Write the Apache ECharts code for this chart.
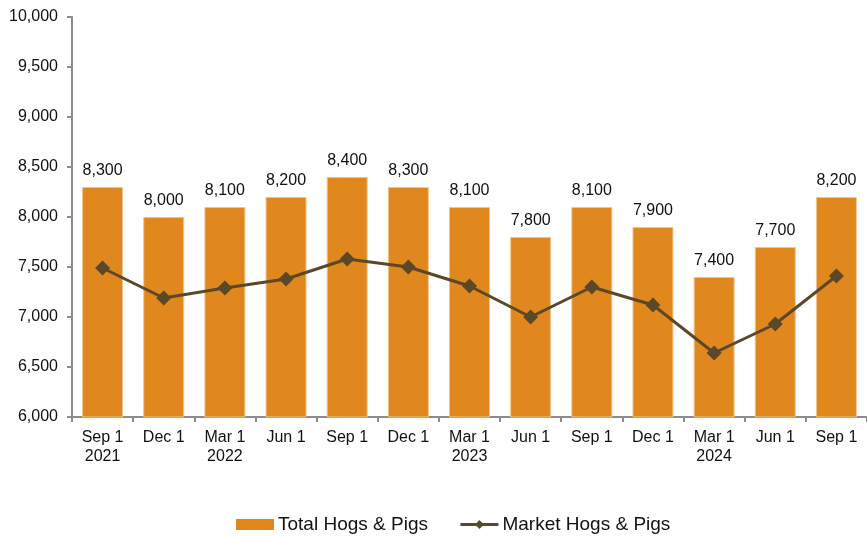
<!DOCTYPE html>
<html>
<head>
<meta charset="utf-8">
<script src="https://cdn.jsdelivr.net/npm/echarts@6/dist/echarts.min.js"></script>
<style>
  html, body { margin: 0; padding: 0; background: #fff; }
  #chart { width: 867px; height: 536px; }
</style>
</head>
<body>
<div id="chart"></div>
<script>
// categories (quarterly inventory dates)
const categories = [
  "Sep 1\n2021", "Dec 1", "Mar 1\n2022", "Jun 1", "Sep 1", "Dec 1",
  "Mar 1\n2023", "Jun 1", "Sep 1", "Dec 1", "Mar 1\n2024", "Jun 1", "Sep 1"
];
// thousand head
const totalHogs = [8300, 8000, 8100, 8200, 8400, 8300, 8100, 7800, 8100, 7900, 7400, 7700, 8200];
const marketHogs = [7490, 7190, 7290, 7380, 7580, 7500, 7310, 7000, 7300, 7120, 6640, 6930, 7410];

const chart = echarts.init(document.getElementById("chart"));

// 给数字每三位加','号
function splitNum(num) {
  return num.toString().replace(/(?=(\B)(\d{3})+$)/g, ",");
}

const option = {
  animation: false,
  textStyle: { fontFamily: "Liberation Sans, Arial, sans-serif" },
  grid: {
    left: 72,
    right: -5,
    top: 17,
    bottom: 119,
  },
  legend: {
    top: 510,
    left: 231,
    itemWidth: 38,
    itemHeight: 11,
    itemGap: 31,
    itemStyle: { borderWidth: 0 },
    lineStyle: { width: 3 },
    textStyle: { fontSize: 19, color: "#111", padding: [0, 0, 0, -1] },
    data: [
      { name: "Total Hogs & Pigs", icon: "rect" },
      { name: "Market Hogs & Pigs" },
    ],
  },
  xAxis: {
    type: "category",
    data: categories,
    axisLine: { lineStyle: { color: "#8c8c8c", width: 2 } },
    axisTick: { show: true, length: 5, lineStyle: { color: "#8c8c8c", width: 2 } },
    axisLabel: {
      color: "#111",
      fontSize: 16,
      lineHeight: 19,
      margin: 11,
      interval: 0,
    },
  },
  yAxis: {
    type: "value",
    min: 6000,
    max: 10000,
    interval: 500,
    splitLine: { show: false },
    axisLine: { show: true, lineStyle: { color: "#8c8c8c", width: 2 } },
    axisTick: { show: true, length: 5, lineStyle: { color: "#8c8c8c", width: 2 } },
    axisLabel: {
      color: "#111",
      fontSize: 16,
      margin: 14,
      formatter: (v) => splitNum(v),
    },
  },
  series: [
    {
      name: "Total Hogs & Pigs",
      type: "bar",
      data: totalHogs,
      barWidth: "67%",
      itemStyle: { color: "#E0871E", borderColor: "#F1C48E", borderWidth: 1 },
      label: {
        show: true,
        position: "top",
        distance: 8,
        color: "#111",
        fontSize: 16,
        formatter: (p) => splitNum(p.value),
      },
      z: 1,
    },
    {
      name: "Market Hogs & Pigs",
      type: "line",
      data: marketHogs,
      symbol: "diamond",
      symbolSize: 15,
      lineStyle: { color: "#5B4826", width: 3 },
      itemStyle: { color: "#5B4826" },
      z: 3,
    },
  ],
};

chart.setOption(option);
</script>
</body>
</html>
